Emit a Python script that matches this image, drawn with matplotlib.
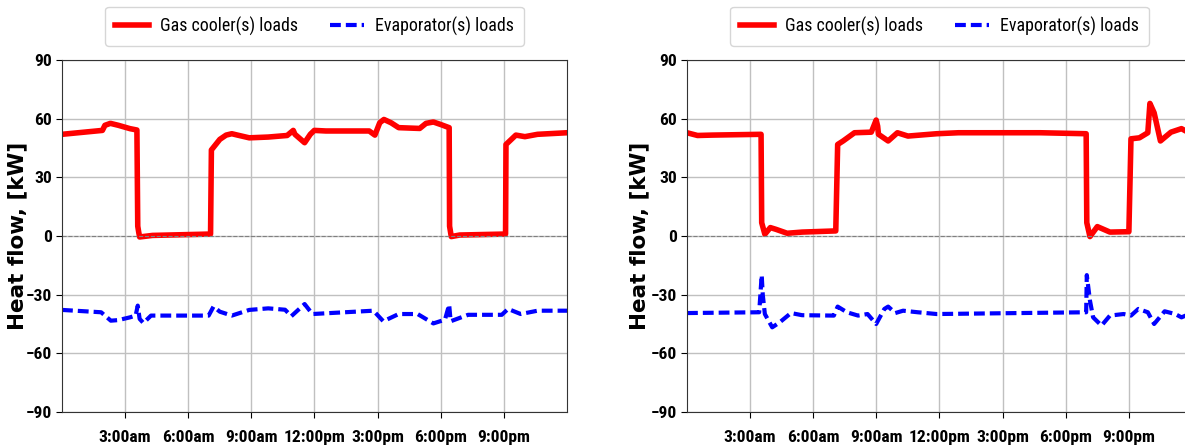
import matplotlib
matplotlib.use("Agg")
import matplotlib.pyplot as plt
from matplotlib.ticker import FixedLocator
from matplotlib import font_manager as fm

# ---- data (hours of day, kW) ----
tick_hours = [3, 6, 9, 12, 15, 18, 21]
tick_labels = ["3:00am", "6:00am", "9:00am", "12:00pm", "3:00pm", "6:00pm", "9:00pm"]
y_ticks = [-90, -60, -30, 0, 30, 60, 90]

left_gc_t = [0, 1.92, 2.04, 2.3, 2.68, 3.23, 3.56, 3.6, 3.65, 3.69, 4.3, 7.06, 7.1, 7.5, 7.8, 8.07,
             8.34, 8.9, 9.8, 10.7, 10.99, 11.07, 11.53, 11.8, 11.99, 12.54, 14.6, 14.87, 15.1, 15.3,
             15.64, 16.0, 17.0, 17.3, 17.65, 18.0, 18.4, 18.42, 18.5, 18.9, 21.08, 21.1, 21.57, 22.0,
             22.6, 24]
left_gc_v = [52, 54, 56.6, 57.6, 56.6, 54.9, 54.2, 5, 1.7, -0.5, 0.3, 1, 44, 49.4, 51.6, 52.3,
             51.6, 50.2, 50.6, 51.4, 54, 52, 47.7, 52, 54, 53.7, 53.7, 51.6, 57.9, 59.6,
             57.9, 55.4, 55, 57.6, 58.3, 57, 55.4, 5, -0.3, 0.5, 1, 46.8, 51.6, 50.8,
             52, 52.8]

left_ev_t = [0, 1.86, 2.32, 2.68, 3.23, 3.5, 3.6, 3.69, 3.87, 4.23, 6.97, 7.2, 7.5, 8.07, 8.9, 9.8,
             10.6, 10.9, 11.53, 11.9, 14.8, 15.27, 16.0, 16.9, 17.65, 18.2, 18.4, 18.47, 19.3, 20.9,
             21.2, 21.8, 22.6, 24]
left_ev_v = [-37.8, -39, -43.3, -43, -41.6, -40.7, -35.6, -42.4, -44.5, -40.7, -40.7, -36.1, -38.7,
             -40.7, -37.8, -37, -37.7, -41, -34.8, -39.9, -38.2, -43.6, -39.9, -39.9, -44.7, -42.8,
             -35.1, -43.6, -40.3, -40.3, -37.3, -39.9, -38.2, -38.2]

right_gc_t = [0, 0.5, 1.2, 3.52, 3.55, 3.7, 3.96, 4.23, 4.76, 5.47, 7.07, 7.16, 7.42, 7.96, 8.76,
              8.99, 9.06, 9.1, 9.56, 10.0, 10.5, 11.87, 12.9, 16.8, 18.97, 19.0, 19.15, 19.5, 20.1,
              21.0, 21.1, 21.5, 21.9, 22.0, 22.2, 22.5, 23.0, 23.5, 23.7, 24]
right_gc_v = [52.8, 51.4, 51.6, 52, 6.8, 0.9, 4.3, 3.4, 1.4, 2, 2.6, 46.8, 48.6, 52.8, 53.1,
              59.3, 56.2, 52, 48.6, 52.8, 51.1, 52.3, 52.8, 52.8, 52.3, 6.8, -0.3, 4.8, 2,
              2.2, 49.7, 50.2, 52.8, 67.8, 63, 48.6, 53.1, 54.9, 53.7, 53]

right_ev_t = [0, 3.43, 3.55, 3.6, 3.7, 4.05, 4.4, 4.94, 5.47, 6.98, 7.16, 7.6, 8.13, 8.58, 8.99,
              9.38, 9.56, 9.9, 10.27, 10.97, 11.86, 18.97, 19.0, 19.15, 19.3, 19.7, 20.1, 20.75,
              21.1, 21.45, 21.9, 22.2, 22.7, 23.2, 23.5, 23.7, 24]
right_ev_v = [-39.4, -39, -20, -30, -39.9, -46.7, -44.2, -39.4, -40.5, -40.7, -36.1, -39, -40.7,
              -39.9, -45, -37.3, -36.1, -39.4, -38.2, -39, -39.9, -39, -20, -33, -41.6, -45.8,
              -40.7, -39.9, -40.7, -37.3, -39, -45, -38.5, -39.9, -41.6, -40.7, -40]

names = {f.name for f in fm.fontManager.ttflist}
narrow = "Liberation Sans Narrow" if "Liberation Sans Narrow" in names else (
    "Roboto Condensed" if "Roboto Condensed" in names else "DejaVu Sans")
fam = [narrow, "DejaVu Sans"]

panels = [
    (left_gc_t, left_gc_v, left_ev_t, left_ev_v, [62 / 1185, 1 - 412 / 448, 505 / 1185, 352 / 448], -0.069),
    (right_gc_t, right_gc_v, right_ev_t, right_ev_v, [687 / 1185, 1 - 412 / 448, 505 / 1185, 352 / 448], -0.074),
]

fig = plt.figure(figsize=(11.85, 4.48), dpi=100)
tick_font = dict(family=fam, weight="bold", size=12.6)

for gt, gv, et, ev, pos, lx in panels:
    ax = fig.add_axes(pos)
    ax.plot(gt, gv, color="red", lw=4, label="Gas cooler(s) loads", solid_joinstyle="round")
    ax.plot(et, ev, color="blue", lw=3.0, ls=(0, (2.6, 1.2)), label="Evaporator(s) loads")
    ax.axhline(0, color="gray", lw=0.8, ls="--")
    ax.set_xlim(0, 24)
    ax.set_ylim(-90, 90)
    ax.xaxis.set_major_locator(FixedLocator(tick_hours))
    ax.set_xticklabels(tick_labels, fontdict=tick_font)
    ax.yaxis.set_major_locator(FixedLocator(y_ticks))
    ax.set_yticklabels(["\u2212" + str(-v) if v < 0 else str(v) for v in y_ticks], fontdict=tick_font)
    ax.grid(True, color="#c0c0c0", lw=1)
    ax.tick_params(axis="x", pad=9, length=4)
    ax.tick_params(axis="y", pad=3, length=4)
    for s in ax.spines.values():
        s.set_color("#333333")
    ax.set_ylabel("Heat flow, [kW]", fontsize=15.5, fontweight="bold", family="DejaVu Sans")
    ax.yaxis.set_label_coords(lx, 0.5)
    ax.legend(loc="lower center", bbox_to_anchor=(0.5, 1.015), ncol=2, frameon=True,
              prop=dict(family=fam, size=12.9),
              handlelength=1.9, handletextpad=0.6, columnspacing=1.8, borderpad=0.55)

fig.savefig("out.png", dpi=100)
